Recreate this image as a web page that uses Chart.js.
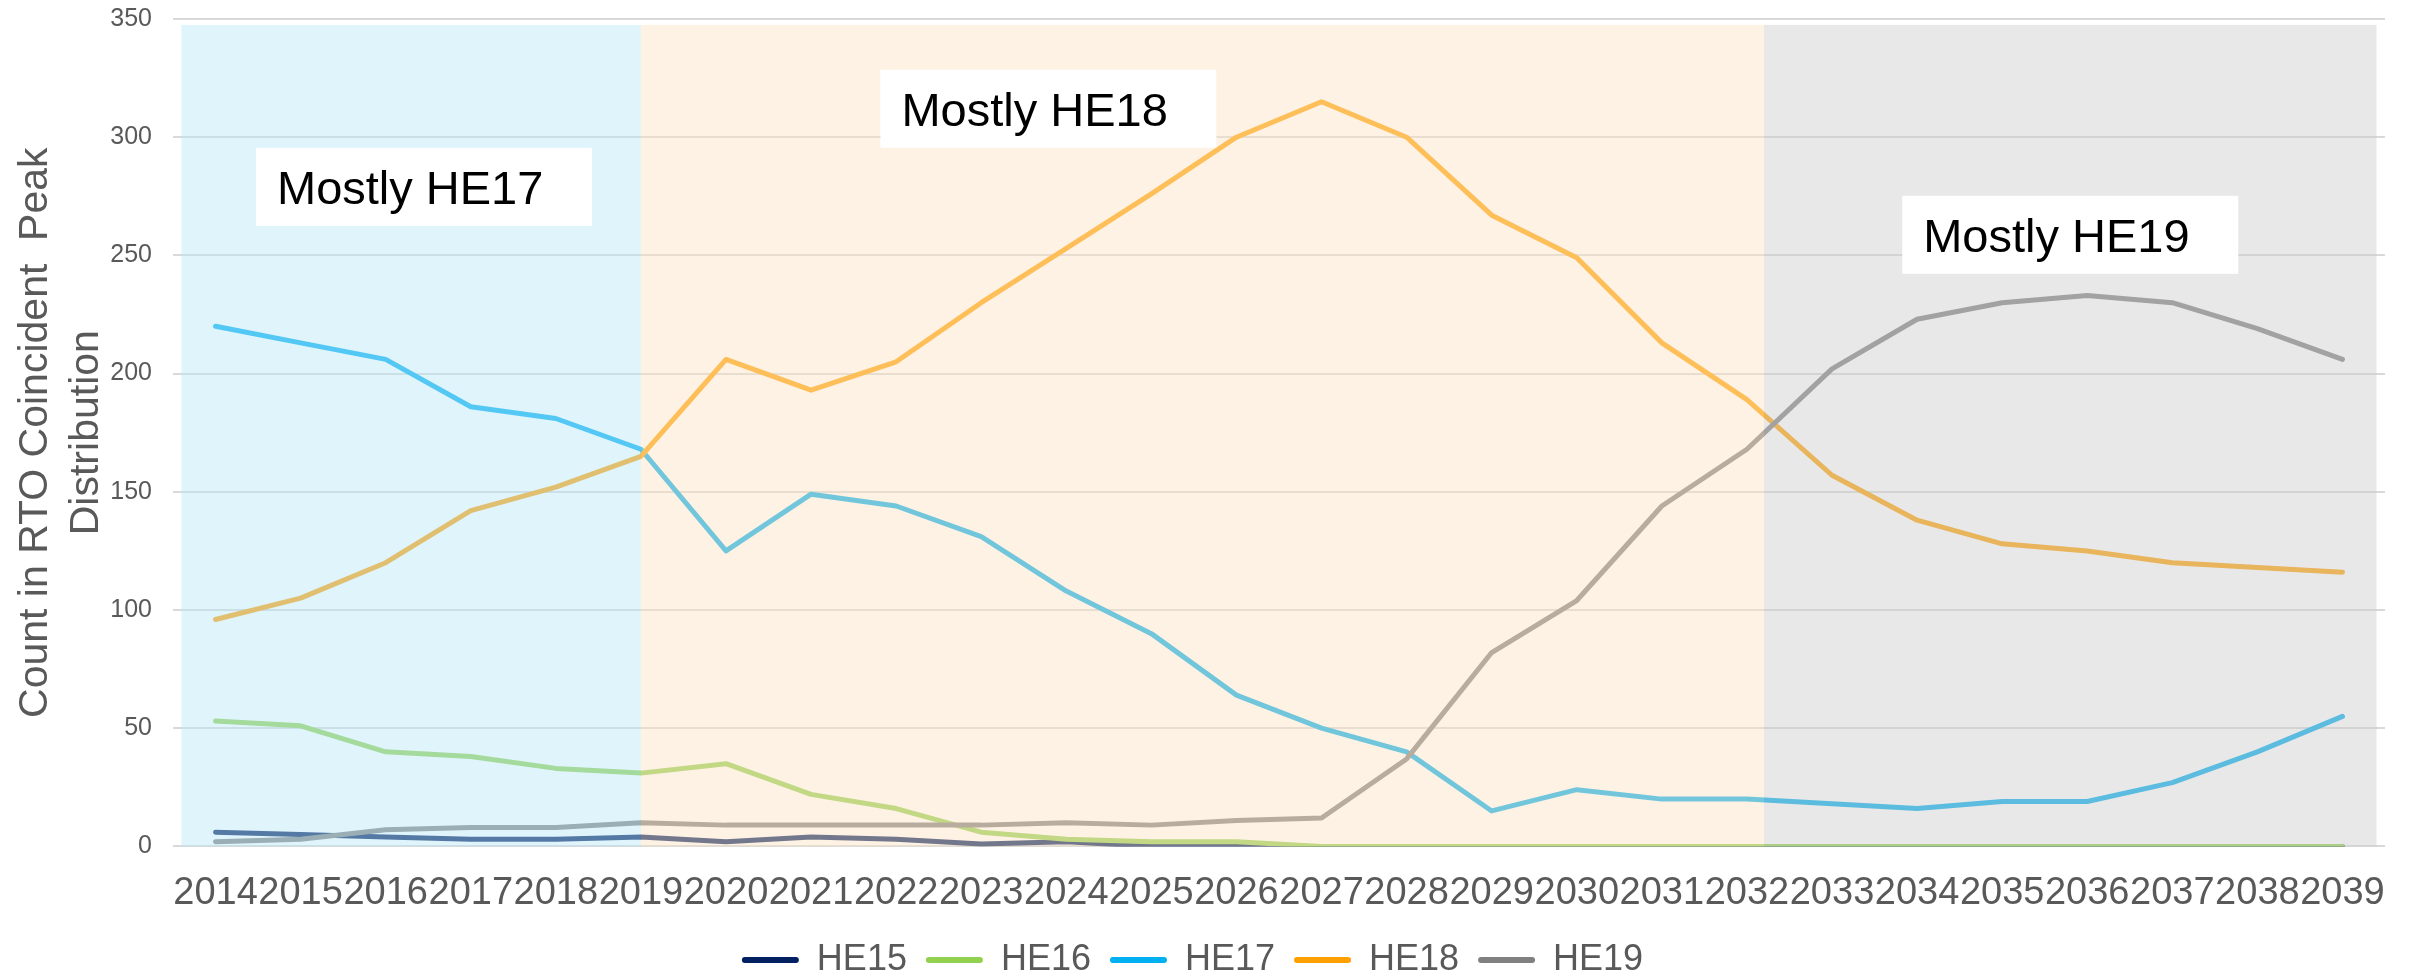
<!DOCTYPE html>
<html>
<head>
<meta charset="utf-8">
<script src="https://cdn.jsdelivr.net/npm/chart.js@4.4.1/dist/chart.umd.min.js"></script>
<style>
  html, body { margin: 0; padding: 0; background: #ffffff; }
  #wrap { width: 2415px; height: 977px; }
</style>
</head>
<body>
<div id="wrap"><canvas id="chart" width="2415" height="977"></canvas></div>
<script>
// Years on the category axis
const years = ['2014','2015','2016','2017','2018','2019','2020','2021','2022','2023','2024','2025','2026',
               '2027','2028','2029','2030','2031','2032','2033','2034','2035','2036','2037','2038','2039'];

// Count of RTO coincident peaks falling in each hour ending
const he15 = [6, 5, 4, 3, 3, 4, 2, 4, 3, 1, 2, 0, 0, 0, 0, 0, 0, 0, 0, 0, 0, 0, 0, 0, 0, 0];
const he16 = [53, 51, 40, 38, 33, 31, 35, 22, 16, 6, 3, 2, 2, 0, 0, 0, 0, 0, 0, 0, 0, 0, 0, 0, 0, 0];
const he17 = [220, 213, 206, 186, 181, 168, 125, 149, 144, 131, 108, 90, 64, 50, 40, 15, 24, 20, 20, 18, 16, 19, 19, 27, 40, 55];
const he18 = [96, 105, 120, 142, 152, 165, 206, 193, 205, 230, 253, 276, 300, 315, 300, 267, 249, 213, 189, 157, 138, 128, 125, 120, 118, 116];
const he19 = [2, 3, 7, 8, 8, 10, 9, 9, 9, 9, 10, 9, 11, 12, 37, 82, 104, 144, 168, 202, 223, 230, 233, 230, 219, 206];

const seriesNames = ['HE15', 'HE16', 'HE17', 'HE18', 'HE19'];
const seriesValues = [he15, he16, he17, he18, he19];

// Y axis ticks
const yTicks = [0, 50, 100, 150, 200, 250, 300, 350];

// Period labels
const periodLabels = ['Mostly HE17', 'Mostly HE18', 'Mostly HE19'];

// ---- styling and placement ----
const seriesColors = ['#002060', '#92D050', '#00B0F0', '#FFA000', '#808080'];
const FONT = "'Liberation Sans', Arial, sans-serif";
const TEXT_GREY = '#595959';

// shaded periods, in category-index units along x
const bands = [
  { from: -0.4, to: 5.0,  top: 347.5, fill: 'rgba(186,231,249,0.45)' },
  { from: 5.0,  to: 18.2, top: 347.5, fill: 'rgba(253,226,195,0.45)' },
  { from: 18.2, to: 25.4, top: 347.5, fill: 'rgba(204,204,204,0.45)' }
];
// label boxes anchored by their centre (category index, value)
const labelBoxes = [
  { cx: 2.45, cy: 279 },
  { cx: 9.79, cy: 312 },
  { cx: 21.8, cy: 258.7 }
];
const BOX_W = 336, BOX_H = 78, BOX_PAD = 21, BOX_FONT = 47;

const periodsPlugin = {
  id: 'periods',
  afterDatasetsDraw(chart) {
    const { ctx, scales: { x, y } } = chart;
    ctx.save();
    // translucent period shading over the lines
    bands.forEach(b => {
      const x0 = x.getPixelForValue(b.from);
      const x1 = x.getPixelForValue(b.to);
      const y0 = y.getPixelForValue(b.top);
      const y1 = y.getPixelForValue(0);
      ctx.fillStyle = b.fill;
      ctx.fillRect(x0, y0, x1 - x0, y1 - y0);
    });
    // white label boxes
    labelBoxes.forEach((bx, i) => {
      const cx = x.getPixelForValue(bx.cx);
      const cy = y.getPixelForValue(bx.cy);
      const left = cx - BOX_W / 2, top = cy - BOX_H / 2;
      ctx.fillStyle = '#ffffff';
      ctx.fillRect(left, top, BOX_W, BOX_H);
      ctx.fillStyle = '#000000';
      ctx.font = BOX_FONT + 'px ' + FONT;
      ctx.textAlign = 'left';
      ctx.textBaseline = 'alphabetic';
      ctx.fillText(periodLabels[i], left + BOX_PAD, cy + BOX_FONT * 0.358);
    });
    ctx.restore();
  }
};

const datasets = seriesNames.map((name, i) => ({
  label: name,
  data: seriesValues[i],
  borderColor: seriesColors[i],
  backgroundColor: seriesColors[i],
  borderWidth: 5,
  pointRadius: 0,
  pointHoverRadius: 0,
  tension: 0,
  fill: false,
  borderJoinStyle: 'round',
  borderCapStyle: 'round',
  order: seriesNames.length - i
}));

new Chart(document.getElementById('chart'), {
  type: 'line',
  data: { labels: years, datasets },
  plugins: [periodsPlugin],
  options: {
    responsive: false,
    animation: false,
    devicePixelRatio: 1,
    layout: { padding: { left: 0, right: 30, top: 19, bottom: -11 } },
    plugins: {
      tooltip: { enabled: false },
      legend: {
        position: 'bottom',
        labels: {
          font: { family: FONT, size: 36 },
          color: TEXT_GREY,
          boxWidth: 57,
          boxHeight: 6,
          padding: 19,
          useBorderRadius: true,
          borderRadius: 3,
          generateLabels: (chart) => chart.data.datasets.map((ds, i) => ({
            text: ds.label,
            fillStyle: ds.borderColor,
            strokeStyle: ds.borderColor,
            lineWidth: 0,
            hidden: false,
            datasetIndex: i,
            fontColor: TEXT_GREY,
            borderRadius: 3
          }))
        }
      }
    },
    scales: {
      x: {
        type: 'category',
        offset: true,
        grid: { display: false, drawTicks: false },
        border: { display: false },
        ticks: {
          font: { family: FONT, size: 38 },
          color: TEXT_GREY,
          autoSkip: false,
          maxRotation: 0,
          minRotation: 0,
          padding: 24
        },
        afterFit: (scale) => { scale.height = 76.6; }
      },
      y: {
        min: 0,
        max: 350,
        afterBuildTicks: (scale) => { scale.ticks = yTicks.map(v => ({ value: v })); },
        grid: { color: '#d9d9d9', lineWidth: 2, drawTicks: false },
        border: { display: false },
        ticks: {
          font: { family: FONT, size: 25 },
          color: TEXT_GREY,
          padding: 21
        },
        title: {
          display: true,
          text: ['Count in RTO Coincident  Peak', 'Distribution'],
          font: { family: FONT, size: 41, lineHeight: 1.25 },
          color: TEXT_GREY,
          padding: { top: 10, bottom: 0 }
        },
        afterFit: (scale) => {
          scale.width = 173;
          scale.paddingTop = 0;
          scale.paddingBottom = 0;
        }
      }
    }
  }
});
</script>
</body>
</html>
